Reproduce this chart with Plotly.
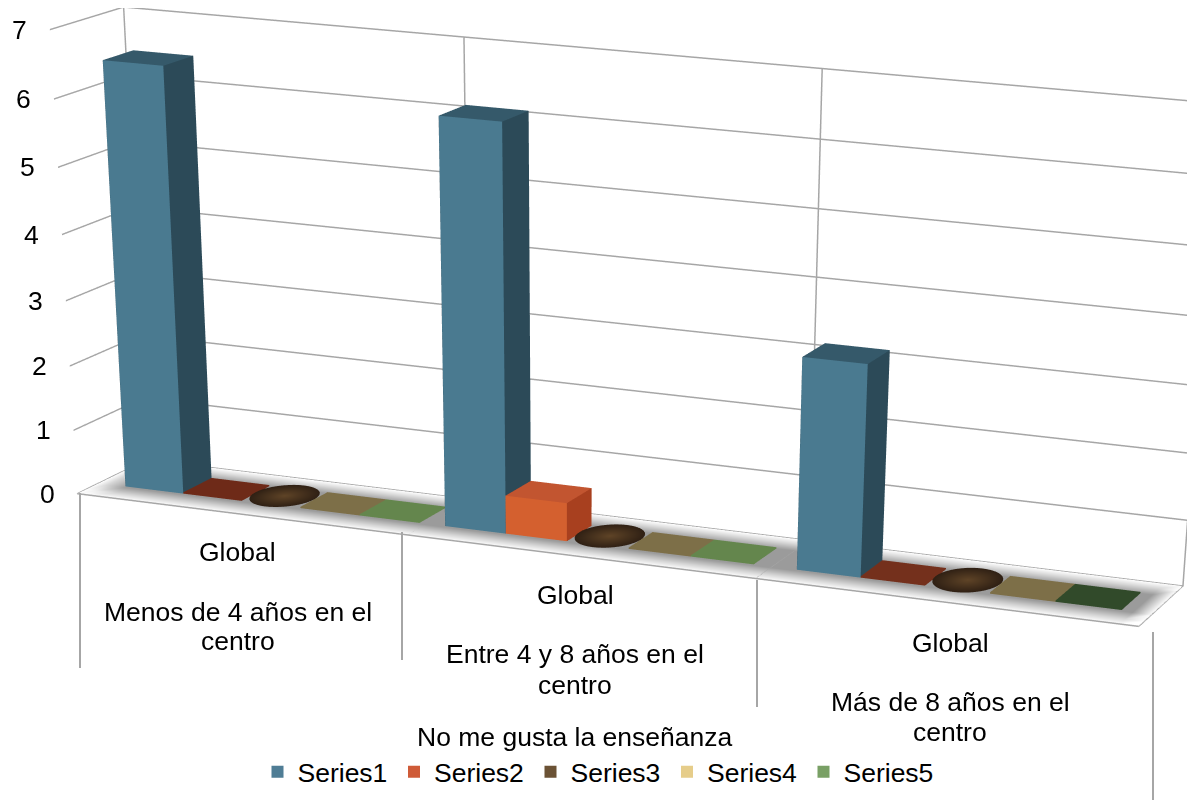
import numpy as np
import plotly.graph_objects as go

label_lines = [["Global", "Menos de 4 años en el", "centro"],
               ["Global", "Entre 4 y 8 años en el", "centro"],
               ["Global", "Más de 8 años en el", "centro"]]
label_x = [238, 575, 950]
label_y = [[552, 612, 641], [595, 654, 685], [643, 702, 732]]
series_names = ["Series1", "Series2", "Series3", "Series4", "Series5"]
series1 = [6.5, 6.15, 3.2]
series2 = [0.0, 0.6, 0.0]
series3 = [0.0, 0.0, 0.0]
series4 = [0.0, 0.0, 0.0]
series5 = [0.0, 0.0, 0.0]
z_ticks = [0, 1, 2, 3, 4, 5, 6, 7]
legend_colors = ["#4f7d95", "#cf5b38", "#6b5235", "#e6cd8a", "#79a065"]
front_colors = [["#4a7a90", "#4a7a90", "#4a7a90"],
                ["#6e2a18", "#d4602f", "#74301c"],
                ["#4a3320", "#4a3320", "#4a3320"],
                ["#7d6f48", "#7d6f48", "#7d6f48"],
                ["#64864d", "#64864d", "#314a2a"]]
top_colors = [["#35596a", "#35596a", "#35596a"],
              ["#6e2a18", "#c25530", "#74301c"],
              ["#4a3320", "#4a3320", "#4a3320"],
              ["#7d6f48", "#7d6f48", "#7d6f48"],
              ["#64864d", "#64864d", "#314a2a"]]
side_colors = [["#2c4a58", "#2c4a58", "#2c4a58"],
               ["#6e2a18", "#a8401f", "#74301c"],
               ["#4a3320", "#4a3320", "#4a3320"],
               ["#7d6f48", "#7d6f48", "#7d6f48"],
               ["#64864d", "#64864d", "#314a2a"]]

# Camera: a tall page gives the long-lens perspective of the original; only the window is seen.
W, H, OFF = 1500, 3600, 8
AZ, EL, ROLL = 0.3482, 0.5434, 0.0247
EYE = np.array([4.3879, -10.7481, 2.4962])
ASPECT = dict(x=3.0, y=0.4037, z=1.1806)

GRID = "#a6a6a6"
BAR_W = 0.176
GAP = 0.07
CAT_SHIFT = [0.015, -0.03, -0.03]
Y0, Y1 = 0.29, 0.71
DISC_RY = 0.3
FLAT = 0.03
LIGHT = dict(ambient=1, diffuse=0, specular=0, roughness=1, fresnel=0)
values = [series1, series2, series3, series4, series5]


def px(x):
    return (x - OFF) / W


def py(y):
    return 1 - (y - OFF) / H


fig = go.Figure()

xs = np.array([0, 0.03, 0.09, 0.97, 1.03, 1.09, 1.97, 2.03, 2.09, 2.95, 3.0])
ys = np.array([0, 0.12, 0.28, 0.72, 0.88, 1.0])
shade_x = [0, 0.4, 1, 1, 1, 1, 1, 1, 1, 1, 0]
shade_y = [0, 0.4, 1, 1, 0.4, 0]
vx, vy, vc, ii, jj, kk = [], [], [], [], [], []
for a, x in enumerate(xs):
    for b, y in enumerate(ys):
        vx.append(x); vy.append(y)
        g = int(255 - 100 * shade_x[a] * shade_y[b])
        vc.append(f"rgb({g},{g},{g})")
n = len(ys)
for a in range(len(xs) - 1):
    for b in range(n - 1):
        p = a * n + b
        ii += [p, p]; jj += [p + n, p + n + 1]; kk += [p + n + 1, p + 1]
fig.add_trace(go.Mesh3d(x=vx, y=vy, z=[0] * len(vx), i=ii, j=jj, k=kk, vertexcolor=vc,
                        flatshading=False, lighting=LIGHT, hoverinfo="skip", showlegend=False))

fig.add_trace(go.Scatter3d(x=[0, 3], y=[0, 0], z=[0, 0], mode="lines",
                           line=dict(color=GRID, width=3), hoverinfo="skip", showlegend=False))

for s, vals in enumerate(values):
    for c_i, v in enumerate(vals):
        x0 = c_i + GAP + CAT_SHIFT[c_i] + s * BAR_W
        x1 = x0 + BAR_W
        h = max(v, FLAT)
        if s == 2:
            th = np.linspace(0, 2 * np.pi, 41)[:-1]
            cx, cy = (x0 + x1) / 2, (Y0 + Y1) / 2
            rx, ry = BAR_W / 2, DISC_RY
            ex_ = np.r_[cx, cx + rx * np.cos(th)]
            ey_ = np.r_[cy, cy + ry * np.sin(th)]
            m = len(th)
            colors = ["#5f4427"] + ["#2f2014"] * m
            fig.add_trace(go.Mesh3d(x=ex_, y=ey_, z=[h] * (m + 1),
                                    i=[0] * m, j=list(range(1, m + 1)),
                                    k=[(t % m) + 1 for t in range(1, m + 1)],
                                    vertexcolor=colors, lighting=LIGHT,
                                    hoverinfo="skip", showlegend=False))
            continue
        bx = [x0, x1, x1, x0, x0, x1, x1, x0]
        by = [Y0, Y0, Y1, Y1, Y0, Y0, Y1, Y1]
        bz = [0.01] * 4 + [h] * 4
        i = [4, 4, 0, 0, 1, 1, 3, 3, 0, 0, 2, 2]
        j = [5, 6, 1, 5, 2, 6, 2, 6, 3, 7, 1, 5]
        k = [6, 7, 5, 4, 6, 5, 6, 7, 7, 4, 5, 6]
        fc = [top_colors[s][c_i]] * 2 + [front_colors[s][c_i]] * 2 + [side_colors[s][c_i]] * 2 + \
             [side_colors[s][c_i]] * 6
        fig.add_trace(go.Mesh3d(x=bx, y=by, z=bz, i=i, j=j, k=k, facecolor=fc,
                                flatshading=True, lighting=LIGHT,
                                hoverinfo="skip", showlegend=False))

for name, col in zip(series_names, legend_colors):
    fig.add_trace(go.Scatter3d(x=[None], y=[None], z=[None], mode="markers", name=name,
                               marker=dict(symbol="square", size=15, color=col)))

FONT = dict(family="Liberation Sans, Arial, sans-serif", size=26.5, color="#000000")
annotations = []
for lines, x, ysc in zip(label_lines, label_x, label_y):
    for t, y in zip(lines, ysc):
        annotations.append(dict(text=t, x=px(x), y=py(y), xref="paper", yref="paper",
                                xanchor="center", yanchor="middle", showarrow=False, font=FONT))
annotations.append(dict(text="No me gusta la enseñanza", x=px(575), y=py(737),
                        xref="paper", yref="paper", xanchor="center", yanchor="middle",
                        showarrow=False, font=FONT))
drop_x = [80, 402, 757, 1153]
drop_top = [493, 532, 580, 632]
drop_bottom = [668, 660, 707, 800]
shapes = [dict(type="line", xref="paper", yref="paper", x0=px(x), x1=px(x),
               y0=py(t), y1=py(b), line=dict(color=GRID, width=2))
          for x, t, b in zip(drop_x, drop_top, drop_bottom)]
tick_annots = [dict(x=0, y=0, z=t, text=str(t), showarrow=False, xshift=-30, font=FONT)
               for t in z_ticks]

axis_off = dict(showbackground=False, showline=False, zeroline=False, showspikes=False,
                title=dict(text=""), ticks="")
fwd = np.array([-np.sin(AZ) * np.cos(EL), np.cos(AZ) * np.cos(EL), -np.sin(EL)])
r0 = np.array([np.cos(AZ), np.sin(AZ), 0.0])
u0 = np.array([-np.sin(AZ) * np.sin(EL), np.cos(AZ) * np.sin(EL), np.cos(EL)])
up = -r0 * np.sin(ROLL) + u0 * np.cos(ROLL)
C = EYE + fwd
fig.update_layout(
    width=W, height=H, margin=dict(l=0, r=0, t=0, b=0, autoexpand=False),
    paper_bgcolor="white", font=FONT, annotations=annotations, shapes=shapes,
    legend=dict(orientation="h", x=px(599), xanchor="center", y=py(772), yanchor="middle",
                font=FONT, entrywidth=91.5, itemsizing="constant"),
    scene=dict(
        domain=dict(x=[0, 1], y=[0, 1]),
        aspectmode="manual", aspectratio=ASPECT,
        annotations=tick_annots,
        xaxis=dict(axis_off, range=[0, 3], tickvals=[0, 0.985, 1.97, 3], showticklabels=False,
                   showgrid=True, gridcolor=GRID, gridwidth=3),
        yaxis=dict(axis_off, range=[0, 1], showticklabels=False, showgrid=False),
        zaxis=dict(axis_off, range=[0, 7], tickvals=z_ticks, showticklabels=False,
                   showgrid=True, gridcolor=GRID, gridwidth=3),
        camera=dict(projection=dict(type="perspective"),
                    eye=dict(x=EYE[0], y=EYE[1], z=EYE[2]),
                    center=dict(x=C[0], y=C[1], z=C[2]),
                    up=dict(x=up[0], y=up[1], z=up[2])),
    ),
)
fig.write_html("out.html", post_script="document.documentElement.style.overflow='hidden';document.body.style.overflow='hidden';")
